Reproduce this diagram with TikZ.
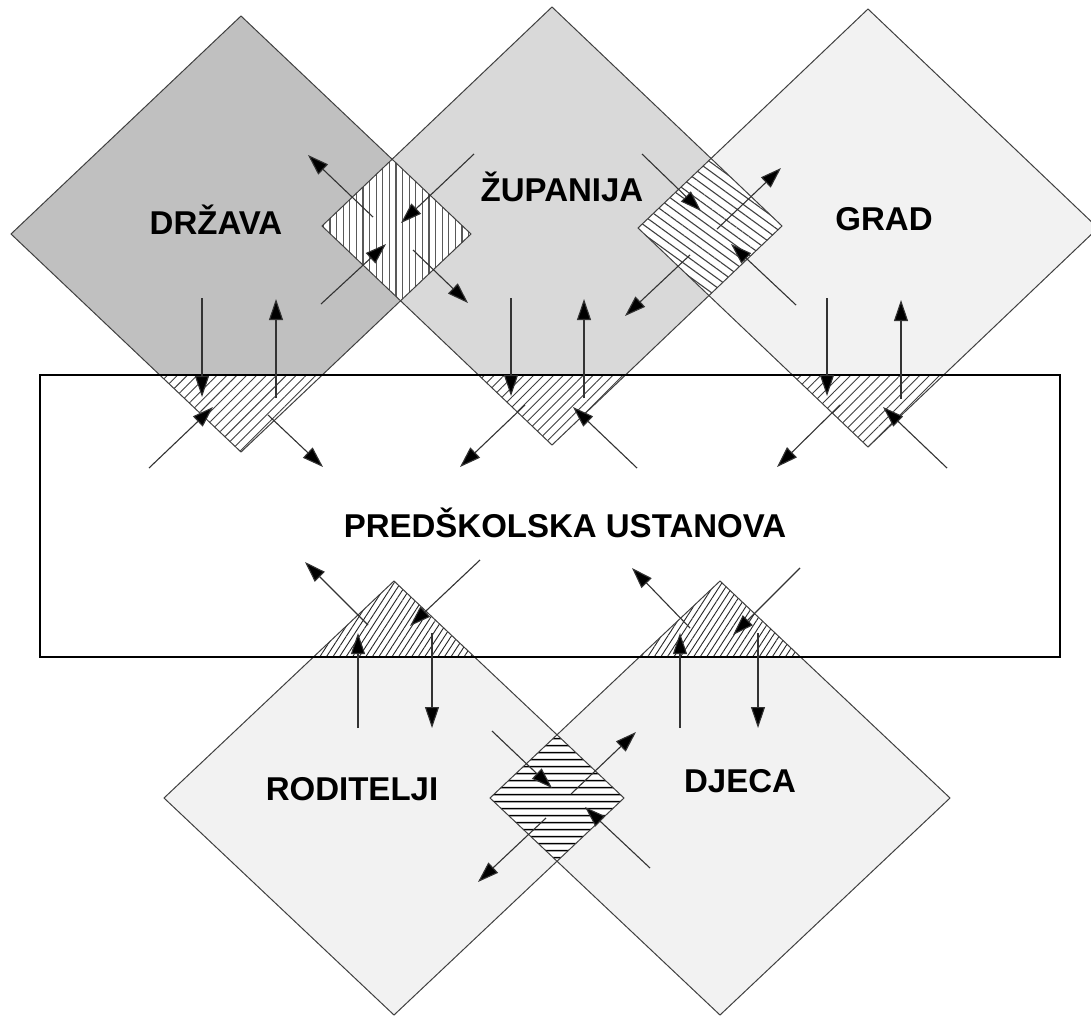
\documentclass[tikz,border=0pt]{standalone}
\usepackage{fontspec}
\setmainfont{Liberation Sans}
\usetikzlibrary{arrows.meta,patterns,patterns.meta}
\definecolor{cdr}{HTML}{C0C0C0}
\definecolor{czu}{HTML}{D9D9D9}
\definecolor{clt}{HTML}{F2F2F2}
\definecolor{edge}{HTML}{404040}
\begin{document}
\begin{tikzpicture}[x=1pt,y=-1pt,
  dline/.style={draw=edge,line width=1pt},
  arr/.style={draw=black!80,line width=1.1pt,-{Triangle[length=21pt,width=14pt,fill=black]}},
  lbl/.style={font=\fontsize{33}{38}\selectfont\bfseries,text=black,inner sep=0pt}]
\useasboundingbox (0,0) rectangle (1091,1018);
\clip (0,0) rectangle (1091,1018);
\def\pDR{(11,234) -- (241,16) -- (471,234) -- (241,452) -- cycle}
\def\pZU{(322,226) -- (552,7) -- (782,226) -- (552,445) -- cycle}
\def\pGR{(638,228) -- (868,9) -- (1098,228) -- (868,447) -- cycle}
\def\pRO{(164,798) -- (394,581) -- (624,798) -- (394,1015) -- cycle}
\def\pDJ{(490,798) -- (720,581) -- (950,798) -- (720,1015) -- cycle}
\def\pREC{(40,375) rectangle (1060,657)}
% diamond fills
\fill[cdr] \pDR;
\fill[czu] \pZU;
\fill[clt] \pGR;
\fill[clt] \pRO;
\fill[clt] \pDJ;
% institution rectangle
\fill[white] \pREC;
\begin{scope}
  \clip \pREC;
  \fill[pattern={Lines[angle=45,distance=7pt,line width=0.9pt]},pattern color=black!75] \pDR;
  \fill[pattern={Lines[angle=45,distance=7pt,line width=0.9pt]},pattern color=black!75] \pZU;
  \fill[pattern={Lines[angle=45,distance=7pt,line width=0.9pt]},pattern color=black!75] \pGR;
  \fill[pattern={Lines[angle=57,distance=5.5pt,line width=0.9pt]},pattern color=black!85] \pRO;
  \fill[pattern={Lines[angle=57,distance=5.5pt,line width=0.9pt]},pattern color=black!85] \pDJ;
\end{scope}
% overlaps between diamonds
\begin{scope}
  \clip \pDR;
  \fill[white] \pZU;
  \fill[pattern={Lines[angle=90,distance=6.6pt,line width=1.1pt]},pattern color=black!65] \pZU;
\end{scope}
\begin{scope}
  \clip \pZU;
  \fill[white] \pGR;
  \fill[pattern={Lines[angle=-36,distance=7.5pt,line width=1.1pt]},pattern color=black!75] \pGR;
\end{scope}
\begin{scope}
  \clip \pRO;
  \fill[white] \pDJ;
  \fill[pattern={Lines[angle=0,distance=7.4pt,line width=1.5pt]},pattern color=black] \pDJ;
\end{scope}
% outlines
\draw[dline] \pDR;
\draw[dline] \pZU;
\draw[dline] \pGR;
\draw[dline] \pRO;
\draw[dline] \pDJ;
\draw[black,line width=1.3pt] \pREC;
% labels
\node[lbl] (drzava) at (216,220) {DRŽAVA};
\node[lbl] (zupanija) at (562,187) {ŽUPANIJA};
\node[lbl] (grad) at (884,219) {GRAD};
\node[lbl] (ustanova) at (565,523) {PREDŠKOLSKA USTANOVA};
\node[lbl] (roditelji) at (352,789) {RODITELJI};
\node[lbl] (djeca) at (740,781) {DJECA};
% arrow end points
\coordinate (a1s) at (373,217); \coordinate (a1e) at (308,155);
\coordinate (a2s) at (474,154); \coordinate (a2e) at (401,223);
\coordinate (a3s) at (321,304); \coordinate (a3e) at (386,244);
\coordinate (a4s) at (413,250); \coordinate (a4e) at (468,303);
\coordinate (a5s) at (642,154); \coordinate (a5e) at (701,211);
\coordinate (a6s) at (717,229); \coordinate (a6e) at (781,168);
\coordinate (a7s) at (796,305); \coordinate (a7e) at (731,244);
\coordinate (a8s) at (690,255); \coordinate (a8e) at (625,316);
\coordinate (a9s) at (202,298); \coordinate (a9e) at (202,397);
\coordinate (a10s) at (276,398); \coordinate (a10e) at (276,299);
\coordinate (a11s) at (511,298); \coordinate (a11e) at (511,396);
\coordinate (a12s) at (584,398); \coordinate (a12e) at (584,299);
\coordinate (a13s) at (827,298); \coordinate (a13e) at (827,396);
\coordinate (a14s) at (901,399); \coordinate (a14e) at (901,300);
\coordinate (a15s) at (149,468); \coordinate (a15e) at (213,407);
\coordinate (a16s) at (268,415); \coordinate (a16e) at (323,467);
\coordinate (a17s) at (525,405); \coordinate (a17e) at (460,467);
\coordinate (a18s) at (637,468); \coordinate (a18e) at (573,407);
\coordinate (a19s) at (840,405); \coordinate (a19e) at (777,467);
\coordinate (a20s) at (947,468); \coordinate (a20e) at (883,407);
\coordinate (a21s) at (368,625); \coordinate (a21e) at (305,562);
\coordinate (a22s) at (480,560); \coordinate (a22e) at (410,626);
\coordinate (a23s) at (358,728); \coordinate (a23e) at (358,633);
\coordinate (a24s) at (432,633); \coordinate (a24e) at (432,728);
\coordinate (a25s) at (690,628); \coordinate (a25e) at (632,568);
\coordinate (a26s) at (800,568); \coordinate (a26e) at (733,635);
\coordinate (a27s) at (680,728); \coordinate (a27e) at (680,633);
\coordinate (a28s) at (758,633); \coordinate (a28e) at (758,728);
\coordinate (a29s) at (492,731); \coordinate (a29e) at (552,788);
\coordinate (a30s) at (571,794); \coordinate (a30e) at (636,732);
\coordinate (a31s) at (650,868); \coordinate (a31e) at (585,807);
\coordinate (a32s) at (546,818); \coordinate (a32e) at (478,882);
\foreach \i in {1,...,32} {\draw[arr] (a\i s) -- (a\i e);}
\end{tikzpicture}
\end{document}
